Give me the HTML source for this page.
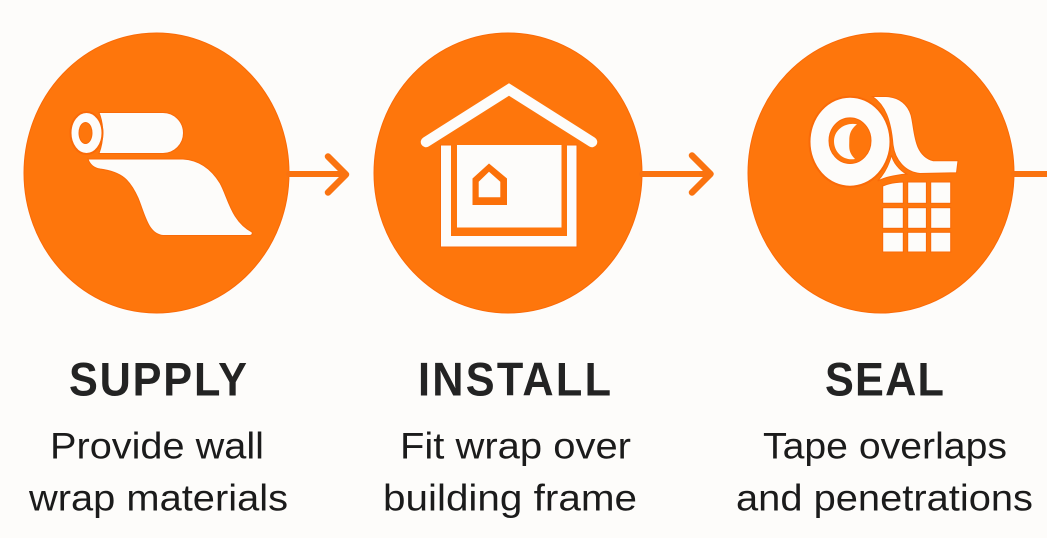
<!DOCTYPE html>
<html><head><meta charset="utf-8"><style>html,body{margin:0;padding:0;background:#fdfcfa;overflow:hidden}svg{display:block}</style></head>
<body>
<svg width="1047" height="538" viewBox="0 0 1047 538" xmlns="http://www.w3.org/2000/svg">
<rect width="1047" height="538" fill="#fdfcfa"/>
<g fill="#fe760c" stroke="#fa6a08" stroke-width="1">
<ellipse cx="156.5" cy="173" rx="132.5" ry="140"/>
<ellipse cx="508" cy="173" rx="134" ry="140"/>
<ellipse cx="881" cy="173" rx="133" ry="140"/>
</g>
<g fill="none" stroke="#fa7310" stroke-width="6" stroke-linecap="round" stroke-linejoin="round">
<path d="M289 174H345"/>
<path d="M642 174H708"/>
<path d="M1014 174H1047"/>
</g>
<g fill="none" stroke="#fa7310" stroke-width="6.500" stroke-linecap="round" stroke-linejoin="round">
<path d="M328 156.500L346 174.500L328 192.500"/>
<path d="M692 155.500L710.500 174L692 192.500"/>
</g>
<!-- roll -->
<g fill="#fdfcfa" stroke="#f96a08" stroke-width="1">
<path d="M99 112.500H163A20.500 20.500 0 0 1 163 153.500H99C104 140 104 125 99 112.500Z"/>
<path d="M89 159H183C200 160 212 170 220 183C228 197 231 221 252 232Q253 235 250 235.500H163C148 234 145 215 138 198C130 180 122 172 100 169C94 168 90 165 88 159Z"/>
</g>
<ellipse cx="86.500" cy="133" rx="16" ry="21" fill="#fdfcfa" stroke="#f96a08" stroke-width="2"/>
<ellipse cx="85.500" cy="133" rx="6.500" ry="10.500" fill="#fe760c" stroke="#f96a08"/>
<!-- house -->
<g fill="none" stroke="#fdfcfa" stroke-width="10.500" stroke-linecap="round" stroke-linejoin="miter">
<path d="M426 142L509 89.500L592 142"/>
</g>
<rect x="440.500" y="145" width="136.500" height="102" fill="#fdfcfa" stroke="#f96a08" stroke-width="1"/>
<rect x="451" y="144" width="116" height="92" fill="#fe760c"/>
<rect x="457" y="145" width="104.500" height="82.500" fill="#fdfcfa"/>
<path d="M472.500 178.500L489 163.500L507 178.500V205H472.500Z" fill="#fb7009"/>
<path d="M478.700 181.700L489 171.700L500.300 181.700V197.300H478.700Z" fill="#fdfcfa"/>
<!-- tape -->
<g fill="#fdfcfa" stroke="#f96a08" stroke-width="1">
<path d="M872.500 96.500H886C900 97 908 105 911 115C915 130 913 155 933 160.700H958L956.500 172.800L920 173.500C905 172 895 160 893 145C891 120 885 105 872.500 96.500Z"/>
<path d="M891.500 155C893 162 899 170 906.500 174C896 175 886 177 877.700 181C885 173 889 165 891.500 155Z"/>
</g>
<ellipse cx="850" cy="141.700" rx="40.500" ry="45" fill="#fdfcfa" stroke="#f96a08" stroke-width="2"/>
<ellipse cx="850" cy="140.700" rx="21" ry="22.800" fill="#fe760c" stroke="#fa6a08"/>
<path d="M857 124.300C845 122 834 130 834 141C834 153 844 161 855 159C848 152 849.300 147 849.300 140C849.300 134 851 129 857 124.300Z" fill="#fdfcfa"/>
<g fill="#fdfcfa" stroke="#f96a08" stroke-width="1">
<path d="M882.700 186C888 183.500 896 182.300 903.300 182V203.300H882.700Z"/>
<rect x="907.700" y="182" width="18.700" height="21.300"/>
<rect x="930.700" y="182" width="20" height="21.300"/>
<rect x="882.700" y="207.700" width="20.600" height="20.600"/>
<rect x="907.700" y="207.700" width="18.700" height="20.600"/>
<rect x="930.700" y="207.700" width="20" height="20.600"/>
<rect x="882.700" y="232.300" width="20.600" height="19.700"/>
<rect x="907.700" y="232.300" width="18.700" height="19.700"/>
<rect x="930.700" y="232.300" width="20" height="19.700"/>
</g>
<!-- text -->
<g font-family="'Liberation Sans',sans-serif" font-weight="700" font-size="47" fill="#232323">
<text transform="translate(69 395.700) scale(.92 1)" textLength="193.500" lengthAdjust="spacing">SUPPLY</text>
<text transform="translate(418 395.700) scale(.92 1)" textLength="209.800" lengthAdjust="spacing">INSTALL</text>
<text transform="translate(825 395.700) scale(.92 1)" textLength="129.300" lengthAdjust="spacing">SEAL</text>
</g>
<g font-family="'Liberation Sans',sans-serif" font-size="37.500" fill="#1b1b1b">
<text x="50" y="458.300" textLength="214" lengthAdjust="spacingAndGlyphs">Provide wall</text>
<text x="29" y="510.700" textLength="259" lengthAdjust="spacingAndGlyphs">wrap materials</text>
<text x="400" y="458.300" textLength="231" lengthAdjust="spacingAndGlyphs">Fit wrap over</text>
<text x="383" y="510.700" textLength="254" lengthAdjust="spacingAndGlyphs">building frame</text>
<text x="763" y="458.300" textLength="244" lengthAdjust="spacingAndGlyphs">Tape overlaps</text>
<text x="736" y="510.700" textLength="297" lengthAdjust="spacingAndGlyphs">and penetrations</text>
</g>
</svg>
</body></html>
